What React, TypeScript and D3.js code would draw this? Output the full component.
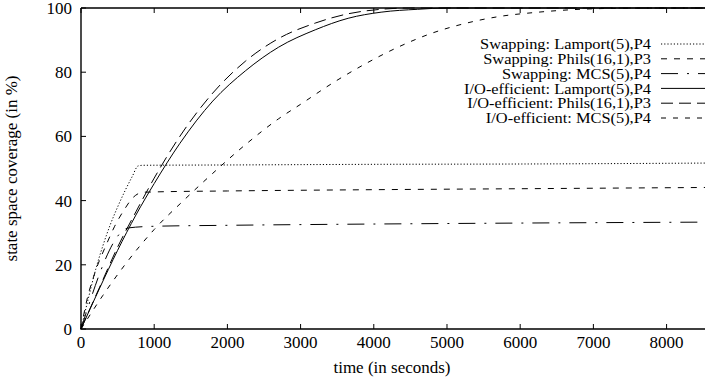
import React, { useEffect, useRef } from "react";
import * as d3 from "d3";

type Pt = [number, number];

// time (s) vs. state space coverage (%)
const swapLamport: Pt[] = [[0, 0], [100, 9.5], [200, 18.5], [300, 26], [400, 32.5], [500, 38], [600, 43], [700, 47.5], [780, 50.8], [850, 51], [2000, 51.1], [4000, 51.3], [6000, 51.4], [8600, 51.7]];
const swapPhils: Pt[] = [[0, 0], [80, 9], [190, 17.5], [350, 26.5], [460, 32], [600, 37.5], [700, 40.7], [850, 42.6], [1000, 42.7], [2000, 43], [4000, 43.4], [6000, 43.7], [8600, 44.1]];
const swapMCS: Pt[] = [[0, 0], [650, 31.5], [1000, 32], [2000, 32.3], [4000, 32.7], [6000, 33], [8600, 33.3]];
const ioLamport: Pt[] = [[0, 0], [250, 12.5], [500, 24.5], [750, 35.5], [1000, 45.3], [1350, 57.8], [1800, 71], [2250, 80.5], [2700, 87.8], [3200, 93.2], [3650, 96.8], [4100, 98.7], [4600, 99.6], [5000, 100], [8600, 100]];
const ioPhils: Pt[] = [[0, 0], [250, 12.8], [500, 25.5], [750, 36.5], [1000, 47], [1350, 60], [1800, 73.5], [2250, 83.5], [2700, 90.5], [3200, 95.3], [3650, 98.2], [4100, 99.6], [4500, 100], [8600, 100]];
const ioMCS: Pt[] = [[0, 0], [300, 10.5], [600, 20], [1000, 31], [1400, 40], [1800, 48.5], [2250, 57.5], [2700, 65.5], [3000, 70], [3450, 76.8], [3900, 82.8], [4350, 88], [4800, 92.2], [5250, 95.2], [5700, 97.3], [6200, 98.6], [6650, 99.4], [7300, 99.9], [8000, 100], [8600, 100]];

const seriesNames = [
  "Swapping: Lamport(5),P4",
  "Swapping: Phils(16,1),P3",
  "Swapping: MCS(5),P4",
  "I/O-efficient: Lamport(5),P4",
  "I/O-efficient: Phils(16,1),P3",
  "I/O-efficient: MCS(5),P4",
];
const seriesData = [swapLamport, swapPhils, swapMCS, ioLamport, ioPhils, ioMCS];
const dashes = ["1.2,2", "6,7", "17,9,2,9", "none", "12,6", "5,7"];

const xTicks = [0, 1000, 2000, 3000, 4000, 5000, 6000, 7000, 8000];
const yTicks = [0, 20, 40, 60, 80, 100];

const font = "'Liberation Serif', 'Times New Roman', serif";

export default function App() {
  const svgRef = useRef<SVGSVGElement>(null);

  useEffect(() => {
    const W = 705, H = 382;
    const margin = { top: 8, left: 81, bottom: 53 };
    const height = H - margin.top - margin.bottom;

    const svg = d3.select(svgRef.current)
      .html("")
      .attr("width", W)
      .attr("height", H);

    const x = d3.scaleLinear().domain([0, 8600]).range([margin.left, margin.left + 629.5]);
    const y = d3.scaleLinear().domain([0, 100]).range([margin.top + height, margin.top]);

    const g = svg.append("g").style("font-family", font);

    // ticks (inward, mirrored on top)
    xTicks.forEach(t => {
      g.append("line").attr("x1", x(t)).attr("x2", x(t))
        .attr("y1", y(0)).attr("y2", y(0) - 5).attr("stroke", "#000");
      g.append("line").attr("x1", x(t)).attr("x2", x(t))
        .attr("y1", y(100)).attr("y2", y(100) + 5).attr("stroke", "#000");
      g.append("text").attr("x", x(t)).attr("y", y(0) + 19)
        .attr("text-anchor", "middle").style("font-size", "17px").text(t);
    });
    yTicks.forEach(t => {
      g.append("line").attr("x1", x(0)).attr("x2", x(0) + 5)
        .attr("y1", y(t)).attr("y2", y(t)).attr("stroke", "#000");
      g.append("text").attr("x", x(0) - 9).attr("y", y(t))
        .attr("dy", "0.35em").attr("text-anchor", "end").style("font-size", "17px").text(t);
    });

    // lines
    const line = d3.line<Pt>()
      .x(d => x(d[0]))
      .y(d => y(d[1]))
      .curve(d3.curveMonotoneX);

    seriesData.forEach((data, i) => {
      g.append("path")
        .datum(data)
        .attr("fill", "none")
        .attr("stroke", "#000")
        .attr("stroke-width", 1)
        .attr("stroke-dasharray", dashes[i])
        .attr("d", line);
    });

    // frame
    g.append("path")
      .attr("d", `M${x(0)},${y(100)}H${W}M${x(0)},${y(100)}V${y(0)}H${W}`)
      .attr("fill", "none")
      .attr("stroke", "#000")
      .attr("stroke-width", 1.4);

    // legend (text a bit stretched, rows are tight like gnuplot's)
    seriesNames.forEach((name, i) => {
      const ly = 44 + i * 14.8;
      g.append("g")
        .attr("transform", `translate(651,${ly}) scale(1.17,1.05)`)
        .append("text").attr("dy", "0.35em")
        .attr("text-anchor", "end").style("font-size", "14px").text(name);
      g.append("line").attr("x1", 661).attr("x2", 708)
        .attr("y1", ly).attr("y2", ly)
        .attr("stroke", "#000").attr("stroke-dasharray", dashes[i]);
    });

    // axis labels
    g.append("text")
      .attr("transform", `translate(17,${y(50)}) rotate(-90)`)
      .attr("text-anchor", "middle").style("font-size", "17px")
      .text("state space coverage (in %)");
    g.append("text")
      .attr("x", 392).attr("y", 373)
      .attr("text-anchor", "middle").style("font-size", "17px")
      .text("time (in seconds)");
  }, []);

  return (
    <div style={{ position: "absolute", left: 0, top: 0 }}>
      <svg ref={svgRef} style={{ display: "block" }}></svg>
    </div>
  );
}
